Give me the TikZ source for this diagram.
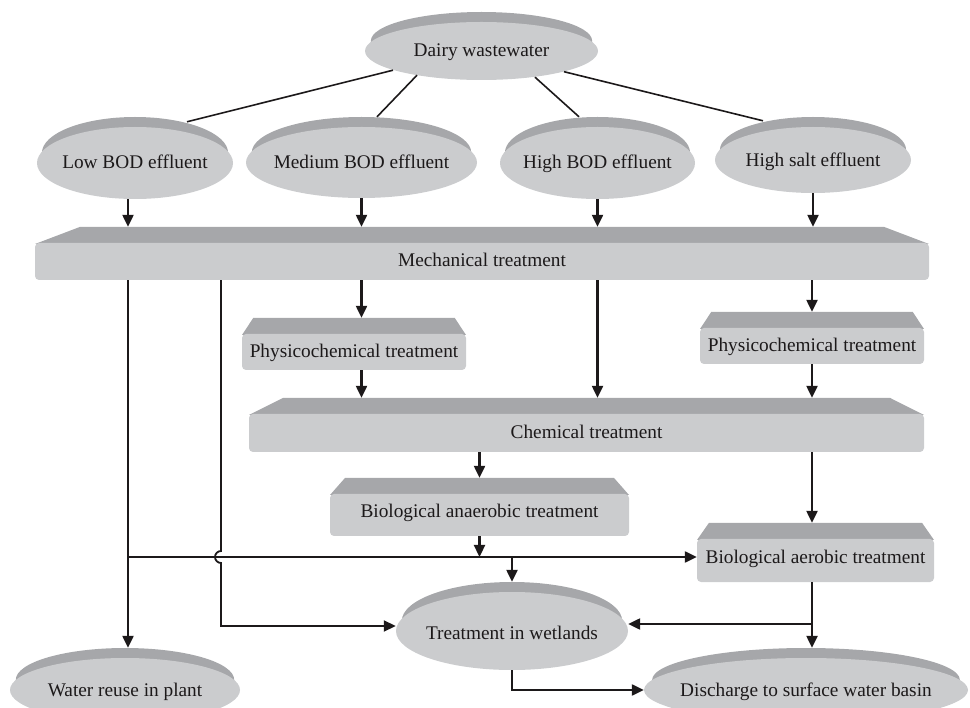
\documentclass[tikz,border=0pt]{standalone}
\usepackage{fontspec}
\setmainfont{Liberation Serif}
\usepackage{xcolor}
\usepackage{tikz}
\usetikzlibrary{arrows.meta,calc,positioning}
\definecolor{disclight}{RGB}{203,204,206}
\definecolor{discdark}{RGB}{166,167,170}
\definecolor{inkgray}{RGB}{28,25,26}
\tikzset{
    dims/.style n args={3}{minimum width=#1pt, text height=#2pt, text depth=#3pt},
    disc/.style={inner sep=0pt, anchor=base, text=inkgray, font=\fontsize{19.3}{23}\selectfont,
        path picture={
            \fill[discdark] let \p1=(path picture bounding box.south west),
                \p2=(path picture bounding box.north east),
                \n1={(\x2-\x1)/2}, \n2={(\y2-\y1-10pt)/2} in
                ({(\x1+\x2)/2},{\y1+\n2*1pt+10pt}) ellipse [x radius={0.95*\n1*1pt}, y radius={\n2*1pt}];
            \fill[disclight] let \p1=(path picture bounding box.south west),
                \p2=(path picture bounding box.north east),
                \n1={(\x2-\x1)/2}, \n2={(\y2-\y1-10pt)/2} in
                ({(\x1+\x2)/2},{\y1+\n2*1pt}) ellipse [x radius={\n1*1pt}, y radius={\n2*1pt}];
        }},
    slab/.style={inner sep=0pt, anchor=base, text=inkgray, font=\fontsize{19.3}{23}\selectfont,
        path picture={
            \fill[discdark] let \p1=(path picture bounding box.south west),
                \p2=(path picture bounding box.north east),
                \n1={0.05*(\x2-\x1)} in
                (\x1,{\y2-17pt}) -- ({\x1+\n1*1pt},\y2) -- ({\x2-\n1*1pt},\y2) -- (\x2,{\y2-17pt}) -- cycle;
            \fill[disclight, rounded corners=4pt] (path picture bounding box.south west)
                rectangle ([yshift=-16pt]path picture bounding box.north east);
        }},
    flow/.style={line width=2.3pt, draw=inkgray, -{Triangle[length=12pt,width=11pt]}},
    link/.style={line width=1.6pt, draw=inkgray},
}
\begin{document}
\begin{tikzpicture}[x=1pt,y=-1pt]
            \useasboundingbox (0,0) rectangle (970,708);
            \clip (0,0) rectangle (970,708);
            %Sources
            \node[disc, dims={233}{45}{23}] (dairy) at (481.5,57) {Dairy wastewater};
            \node[disc, dims={196}{52}{30}] (lowbod) at (135,169) {Low BOD effluent};
            \node[disc, dims={231}{52}{29}] (medbod) at (361.5,169) {Medium BOD effluent};
            \node[disc, dims={195}{52}{30}] (highbod) at (597.5,169) {High BOD effluent};
            \node[disc, dims={196}{50}{26}] (highsalt) at (813,167) {High salt effluent};
            %Treatment steps
            \node[slab, dims={894}{40}{13}] (mech) at (482,267) {Mechanical treatment};
            \node[slab, dims={224}{40}{12}] (physl) at (354,358) {Physicochemical treatment};
            \node[slab, dims={224}{40}{12}] (physr) at (812,352) {Physicochemical treatment};
            \node[slab, dims={675}{41}{13}] (chem) at (586.5,439) {Chemical treatment};
            \node[slab, dims={299}{40}{18}] (anaer) at (479.5,518) {Biological anaerobic treatment};
            \node[slab, dims={237}{40}{19}] (aer) at (815.5,563) {Biological aerobic treatment};
            %Outlets
            \node[disc, dims={232}{57}{31}] (wetland) at (512,639) {Treatment in wetlands};
            \node[disc, dims={230}{48}{26}] (reuse) at (125,696) {Water reuse in plant};
            \node[disc, dims={324}{48}{26}] (discharge) at (806,696) {Discharge to surface water basin};
            %Routing points
            \coordinate (jn) at (128,557);
            \coordinate (hop) at (221,557);
            \coordinate (split) at (812,624);
            %Split of the wastewater
            \draw[link] ($(dairy.south)+(-88.5,-10)$) -- ($(lowbod.north)+(52,5)$);
            \draw[link] ($(dairy.south)+(-64.5,-5)$) -- ($(medbod.north)+(15.5,0)$);
            \draw[link] ($(dairy.south)+(53.5,-3)$) -- ($(highbod.north)+(-18.5,0)$);
            \draw[link] ($(dairy.south)+(82.5,-8.5)$) -- ($(highsalt.north)+(-50,4)$);
            %Draw arrows
            \draw[flow] (lowbod.south -| jn) -- (mech.north -| jn);
            \draw[flow] (medbod.south) -- (medbod.south |- mech.north);
            \draw[flow] (highbod.south) -- (highbod.south |- mech.north);
            \draw[flow] (highsalt.south) -- (highsalt.south |- mech.north);
            \draw[flow] (mech.south -| jn) -- (reuse.north -| jn);
            \draw[flow] (mech.south -| medbod.south) -- (physl.north -| medbod.south);
            \draw[flow] (physl.south -| medbod.south) -- (chem.north -| medbod.south);
            \draw[flow] (mech.south -| highbod.south) -- (chem.north -| highbod.south);
            \draw[flow] (mech.south -| physr.north) -- (physr.north);
            \draw[flow] (physr.south) -- (physr.south |- chem.north);
            \draw[flow] (chem.south -| physr.south) -- (aer.north -| physr.south);
            \draw[flow] (chem.south -| anaer.north) -- (anaer.north);
            \draw[flow] (anaer.south) -- (anaer.south |- jn);
            \draw[flow] (jn -| wetland.north) -- (wetland.north);
            \draw[flow] (jn) -- (jn -| aer.west);
            \draw[flow, line width=1.8pt] (mech.south -| hop) -- ([yshift=6pt]hop)
                arc[start angle=90, end angle=270, radius=6pt] -- (hop |- wetland.west) -- (wetland.west);
            \draw[flow] (aer.south -| split) -- (discharge.north -| split);
            \draw[flow] (split) -- (split -| wetland.east);
            \draw[flow] (wetland.south) |- ([yshift=-5pt]discharge.west);
\end{tikzpicture}
\end{document}
